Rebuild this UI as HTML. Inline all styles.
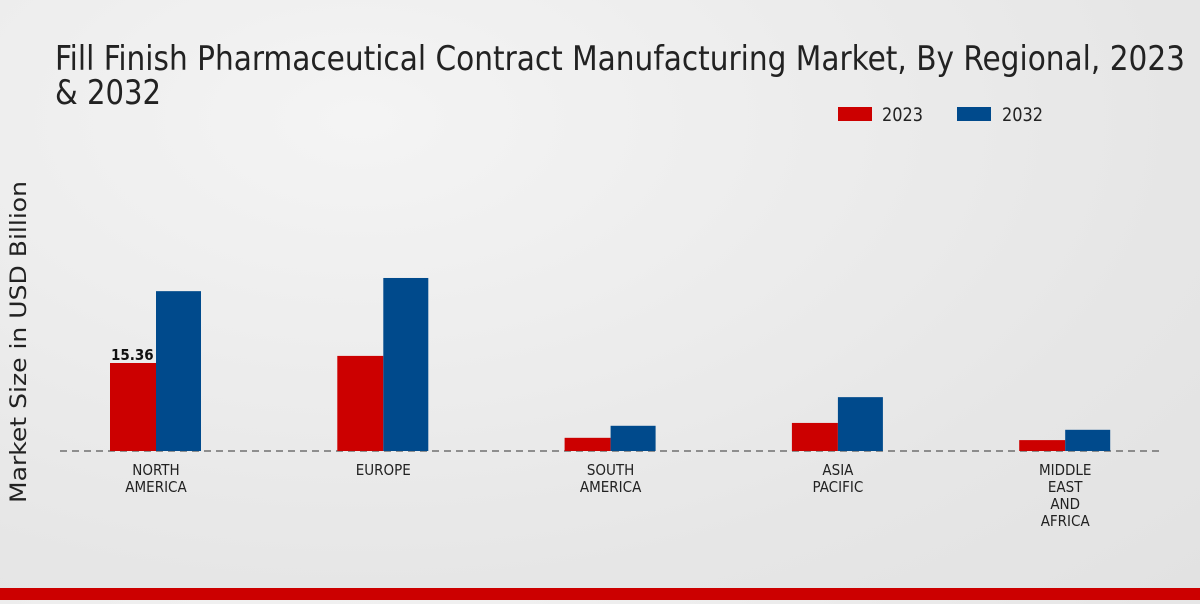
<!DOCTYPE html>
<html><head><meta charset="utf-8"><style>
body{margin:0;width:1200px;height:600px;overflow:hidden;background:radial-gradient(ellipse at 30% 20%,#f4f4f4,#e6e6e6 70%,#e2e2e2);font-family:"DejaVu Sans Condensed","Liberation Sans Narrow","Liberation Sans",sans-serif;}
</style></head><body>
<svg width="1200" height="600">
<text x="55" y="70" font-size="34" fill="#222" textLength="1130" lengthAdjust="spacingAndGlyphs">Fill Finish Pharmaceutical Contract Manufacturing Market, By Regional, 2023</text>
<text x="55" y="104" font-size="34" fill="#222" textLength="106" lengthAdjust="spacingAndGlyphs">&amp; 2032</text>
<g>
<rect x="838" y="107" width="34" height="14" fill="#cc0000"/>
<text x="882" y="121" font-size="19" fill="#222" textLength="41" lengthAdjust="spacingAndGlyphs">2023</text>
<rect x="957" y="107" width="34" height="14" fill="#004a8c"/>
<text x="1002" y="121" font-size="19" fill="#222" textLength="41" lengthAdjust="spacingAndGlyphs">2032</text>
</g>
<text transform="translate(26,342) rotate(-90)" text-anchor="middle" font-size="22" fill="#222" font-family="DejaVu Sans, sans-serif" textLength="322" lengthAdjust="spacingAndGlyphs">Market Size in USD Billion</text>
<line x1="60" y1="451" x2="1160" y2="451" stroke="#333" stroke-dasharray="7,5"/>
<g id="bars"></g>
<rect x="0" y="588" width="1200" height="12" fill="#cc0000"/>
</svg>
<script>
const categories=[["NORTH","AMERICA"],["EUROPE"],["SOUTH","AMERICA"],["ASIA","PACIFIC"],["MIDDLE","EAST","AND","AFRICA"]];
const values2023=[15.36,16.6,2.3,4.9,1.9];
const values2032=[27.9,30.2,4.4,9.4,3.7];
const ns="http://www.w3.org/2000/svg";
const g=document.getElementById('bars');
const base=451,scale=88/15.36;
const cx=i=>156+i*227.3;
const yv=v=>base-v*scale;
function mk(t,a){const e=document.createElementNS(ns,t);for(const k in a)e.setAttribute(k,a[k]);g.appendChild(e);return e;}
categories.forEach((c,i)=>{
 let r=mk('rect',{x:cx(i)-46,y:yv(values2023[i]),width:46,height:base-yv(values2023[i]),fill:'#cc0000'});
 
 
 let b=mk('rect',{x:cx(i),y:yv(values2032[i]),width:45,height:base-yv(values2032[i]),fill:'#004a8c'});
 
 
 c.forEach((l,j)=>{let t=mk('text',{x:cx(i),y:475+j*17,'text-anchor':'middle','font-size':15,fill:'#222'});t.textContent=l;
 
 });
});
let lab=mk('text',{x:cx(0)-45,y:yv(values2023[0])-3,'font-size':15,'font-weight':'bold',fill:'#111'});
lab.textContent=values2023[0].toFixed(2);


</script>
</body></html>
